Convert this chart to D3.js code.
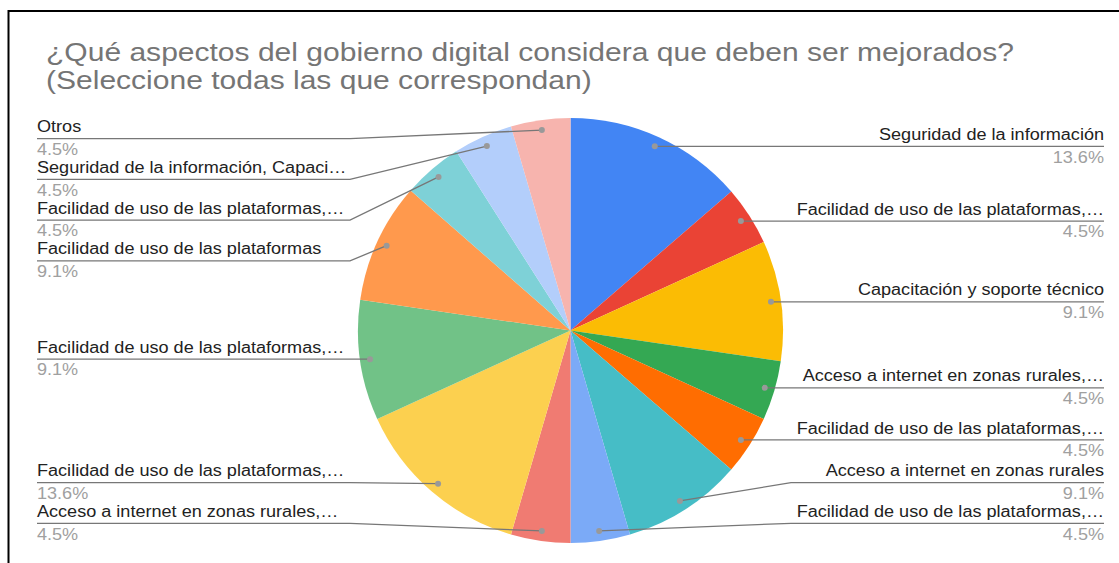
<!DOCTYPE html>
<html>
<head>
<meta charset="utf-8">
<script src="https://cdn.jsdelivr.net/npm/d3@7"></script>
<style>
  body { margin: 0; background: #fff; }
  svg { display: block; font-family: "Liberation Sans", Arial, sans-serif; }
  .title { fill: #757575; font-size: 26px; }
  .label { fill: #222; font-size: 16px; }
  .pct { fill: #a0a0a0; font-size: 16px; }
</style>
</head>
<body>
<script>
//// DATA
// slices in clockwise order starting at 12 o'clock
var labels = [
  "Seguridad de la información",
  "Facilidad de uso de las plataformas,…",
  "Capacitación y soporte técnico",
  "Acceso a internet en zonas rurales,…",
  "Facilidad de uso de las plataformas,…",
  "Acceso a internet en zonas rurales",
  "Facilidad de uso de las plataformas,…",
  "Acceso a internet en zonas rurales,…",
  "Facilidad de uso de las plataformas,…",
  "Facilidad de uso de las plataformas,…",
  "Facilidad de uso de las plataformas",
  "Facilidad de uso de las plataformas,…",
  "Seguridad de la información, Capaci…",
  "Otros"
];
var values = [13.6, 4.5, 9.1, 4.5, 4.5, 9.1, 4.5, 4.5, 13.6, 9.1, 9.1, 4.5, 4.5, 4.5];
var colors = ["#4285F4", "#EA4335", "#FBBC04", "#34A853", "#FF6D01", "#46BDC6", "#7BAAF7",
              "#F07B72", "#FCD04F", "#71C287", "#FF994D", "#7ED1D7", "#B3CEFB", "#F7B4AE"];
var titleLines = [
  "¿Qué aspectos del gobierno digital considera que deben ser mejorados?",
  "(Seleccione todas las que correspondan)"
];

//// LAYOUT
var width = 1119, height = 563;
var cx = 570.5, cy = 330.5, radius = 212.5;
var dotR = radius - 10,          // where the leader dot sits
    bend = radius + 8,           // x offset where leader turns horizontal
    labelTop = 138.7, labelBottom = 523.3, labelGap = 40.7,
    leftX = 37, rightX = 1104;
// the screenshot's text is a bit wider than the font's natural width
var titleStretch = 1.155, labelStretch = 1.13;

function place(x, y, s) {
  return "translate(" + x + "," + y + ") scale(" + s + ",1)";
}

var svg = d3.select("body").append("svg")
    .attr("width", width)
    .attr("height", height);

// frame (left + top edge of the screenshot)
svg.append("path")
    .attr("d", "M8.5," + height + "V11H" + width)
    .attr("fill", "none")
    .attr("stroke", "#000")
    .attr("stroke-width", 2);

// title
svg.selectAll(".title")
    .data(titleLines)
  .enter().append("text")
    .attr("class", "title")
    .attr("transform", function(d, i) { return place(46, 61 + i * 28, titleStretch); })
    .text(function(d) { return d; });

//// PIE
var pie = d3.pie().sort(null).value(function(d) { return d; });
var arcs = pie(values);
var arc = d3.arc().innerRadius(0).outerRadius(radius);

var g = svg.append("g")
    .attr("transform", "translate(" + cx + "," + cy + ")");

g.selectAll(".slice")
    .data(arcs)
  .enter().append("path")
    .attr("class", "slice")
    .attr("d", arc)
    .attr("fill", function(d, i) { return colors[i]; });

//// LABEL PLACEMENT
var items = arcs.map(function(d, i) {
  var a = (d.startAngle + d.endAngle) / 2;
  return {
    i: i,
    side: a < Math.PI ? "right" : "left",
    dx: cx + dotR * Math.sin(a),
    dy: cy - dotR * Math.cos(a)
  };
});

["left", "right"].forEach(function(side) {
  var list = items.filter(function(d) { return d.side == side; })
      .sort(function(a, b) { return a.dy - b.dy; });
  var n = list.length;
  list.forEach(function(d) { d.y = Math.max(labelTop, Math.min(labelBottom, d.dy)); });
  for (var k = 1; k < n; k++)
    list[k].y = Math.max(list[k].y, list[k - 1].y + labelGap);
  list[n - 1].y = Math.min(list[n - 1].y, labelBottom);
  for (var k = n - 2; k >= 0; k--)
    list[k].y = Math.min(list[k].y, list[k + 1].y - labelGap);
});

var leaders = svg.append("g");
items.forEach(function(d) {
  var right = d.side == "right";
  var bx = right ? cx + bend : cx - bend;
  var tx = right ? rightX : leftX;
  leaders.append("path")
      .attr("d", "M" + d.dx + "," + d.dy + "L" + bx + "," + d.y + "H" + tx)
      .attr("fill", "none")
      .attr("stroke", "#777")
      .attr("stroke-width", 1.3);
  leaders.append("circle")
      .attr("cx", d.dx)
      .attr("cy", d.dy)
      .attr("r", 3)
      .attr("fill", "#999");
  leaders.append("text")
      .attr("class", "label")
      .attr("transform", place(tx, d.y - 6.4, labelStretch))
      .attr("text-anchor", right ? "end" : "start")
      .text(labels[d.i]);
  leaders.append("text")
      .attr("class", "pct")
      .attr("transform", place(tx, d.y + 16.3, labelStretch))
      .attr("text-anchor", right ? "end" : "start")
      .text(d3.format(".1f")(values[d.i]) + "%");
});
</script>
</body>
</html>
